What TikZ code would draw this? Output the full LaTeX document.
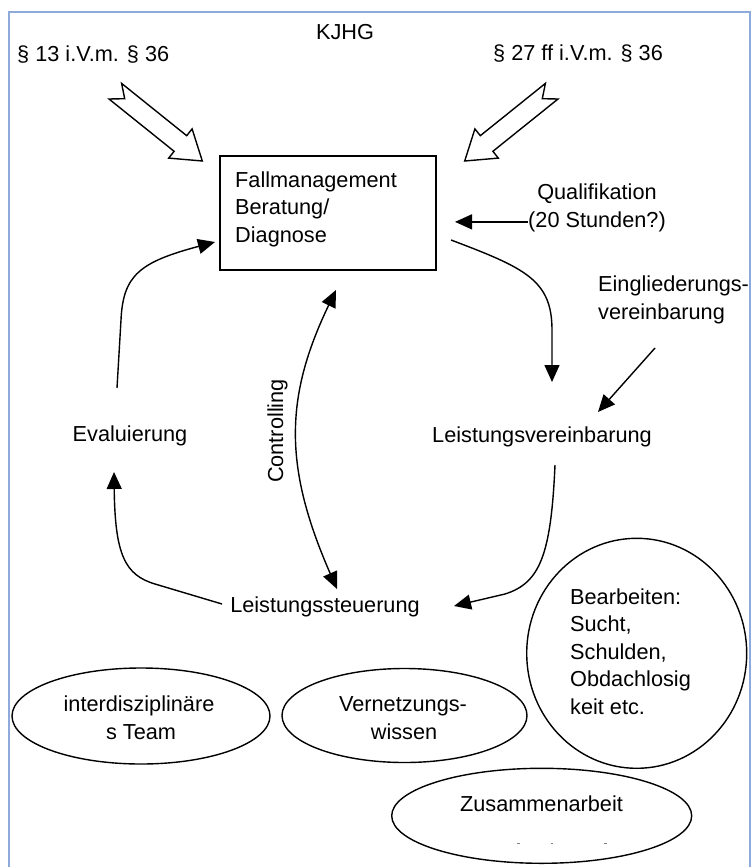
\documentclass[tikz,border=0pt]{standalone}
\usepackage{fontspec}
\setmainfont{Liberation Sans}
\usetikzlibrary{arrows.meta,shapes.geometric}
\definecolor{framecol}{RGB}{142,170,219}
\begin{document}
\begin{tikzpicture}[x=1pt,y=-1pt,
  txt/.style={inner sep=0pt, font=\fontsize{21.7}{27.5}\selectfont},
  conn/.style={line width=1.4pt, -{Triangle[length=17pt,width=15pt]}},
  dconn/.style={line width=1.4pt, {Triangle[length=17pt,width=15pt]}-{Triangle[length=17pt,width=15pt]}},
  blockarrow/.style={line width=1.4pt, line join=miter},
  oval/.style={draw, ellipse, line width=1.4pt, inner sep=0pt}]
\useasboundingbox (0,0) rectangle (755,867);
% frame
\draw[framecol, line width=1.6pt] (9,890) -- (9,12) -- (750,12) -- (750,890);

% top labels
\node[txt, anchor=base] (kjhg) at (345,40) {KJHG};
\node[txt, anchor=base west] (p13) at (17,62) {§ 13 i.V.m. § 36};
\node[txt, anchor=base west] (p27) at (493,61) {§ 27 ff i.V.m. § 36};

% block arrows
\draw[blockarrow] (121.6,83.4) -- (186.7,135.7) -- (192.1,128.9) -- (202.3,161.0) -- (168.7,158.1) -- (174.1,151.3) -- (109.0,99.0) -- (124.7,98.7) -- cycle;
\draw[blockarrow] (545.4,83.4) -- (480.3,135.7) -- (474.9,128.9) -- (464.7,161.0) -- (498.3,158.1) -- (492.9,151.3) -- (558.0,99.0) -- (542.3,98.7) -- cycle;

% main box
\node[draw, line width=1.5pt, minimum width=216pt, minimum height=114pt, anchor=north west, inner sep=0pt] (box) at (219,155) {};
\node[txt, anchor=base west] (fm1) at (235,187) {Fallmanagement};
\node[txt, anchor=base west] (fm2) at (235,214.5) {Beratung/};
\node[txt, anchor=base west] (fm3) at (235,242) {Diagnose};

% Qualifikation
\node[txt, anchor=base] (q1) at (597,199) {Qualifikation};
\node[txt, anchor=base] (q2) at (597,227.5) {(20 Stunden?)};
\coordinate (qtip) at (455,222);
\draw[conn] (q2.west) -- (q2.west -| qtip);

% Eingliederungsvereinbarung
\node[txt, anchor=base west] (ein1) at (598,291) {Eingliederungs-};
\node[txt, anchor=base west] (ein2) at (598,319) {vereinbarung};
\coordinate (einstart) at (655,348);
\coordinate (einend) at (598,412);
\draw[conn] (einstart) -- (einend);

% cycle labels
\node[txt, anchor=base] (lv) at (542,442.5) {Leistungsvereinbarung};
\node[txt, anchor=base] (ev) at (130,441) {Evaluierung};
\node[txt, anchor=base] (ls) at (325,612.5) {Leistungssteuerung};
\node[txt, anchor=base, rotate=90] (ctrl) at (283,431) {Controlling};

% cycle connectors
\coordinate (boxout) at (451,240);
\coordinate (lvtop) at (552,382);
\draw[conn] (boxout) .. controls (525,268) and (552,280) .. (552,330) -- (lvtop);

\coordinate (lvbot) at (555,465);
\coordinate (lsright) at (454,606);
\draw[conn] (lvbot) .. controls (551,555) and (540,583) .. (505,594) -- (lsright);

\coordinate (lsleft) at (222,604);
\coordinate (evbot) at (114,472);
\draw[conn] (lsleft) -- (155,584) .. controls (125,575) and (115,555) .. (evbot);

\coordinate (evtop) at (117,388);
\coordinate (boxin) at (215,242);
\draw[conn] (evtop) -- (121,320) .. controls (123,275) and (140,262) .. (boxin);

\coordinate (ctop) at (336,290);
\coordinate (cbot) at (337,589);
\draw[dconn] (ctop) .. controls (284,398) and (284,468) .. (cbot);

% ovals
\node[oval, minimum width=258pt, minimum height=96pt] (e1) at (141,716) {};
\node[txt, anchor=base] (e1a) at (139,711) {interdisziplinäre};
\node[txt, anchor=base] (e1b) at (141,739) {s Team};

\node[oval, minimum width=245pt, minimum height=94pt] (e2) at (404.5,715.5) {};
\node[txt, anchor=base] (e2a) at (403,711) {Vernetzungs-};
\node[txt, anchor=base] (e2b) at (404,739) {wissen};

\node[oval, minimum width=220pt, minimum height=230pt] (e3) at (636.7,653.3) {};
\node[txt, anchor=base west] (e3a) at (570,604) {Bearbeiten:};
\node[txt, anchor=base west] (e3b) at (570,631.5) {Sucht,};
\node[txt, anchor=base west] (e3c) at (570,659) {Schulden,};
\node[txt, anchor=base west] (e3d) at (570,686.5) {Obdachlosig};
\node[txt, anchor=base west] (e3e) at (570,714) {keit etc.};

\node[oval, minimum width=300pt, minimum height=95pt] (e4) at (541.7,815.8) {};
\node[txt, anchor=base] (e4a) at (541.5,811) {Zusammenarbeit};
\draw[gray, line width=1pt] (517,843.3) -- (520,843.3) (550.5,843.3) -- (553,843.3) (604,843.3) -- (606.5,843.3);
\end{tikzpicture}
\end{document}
